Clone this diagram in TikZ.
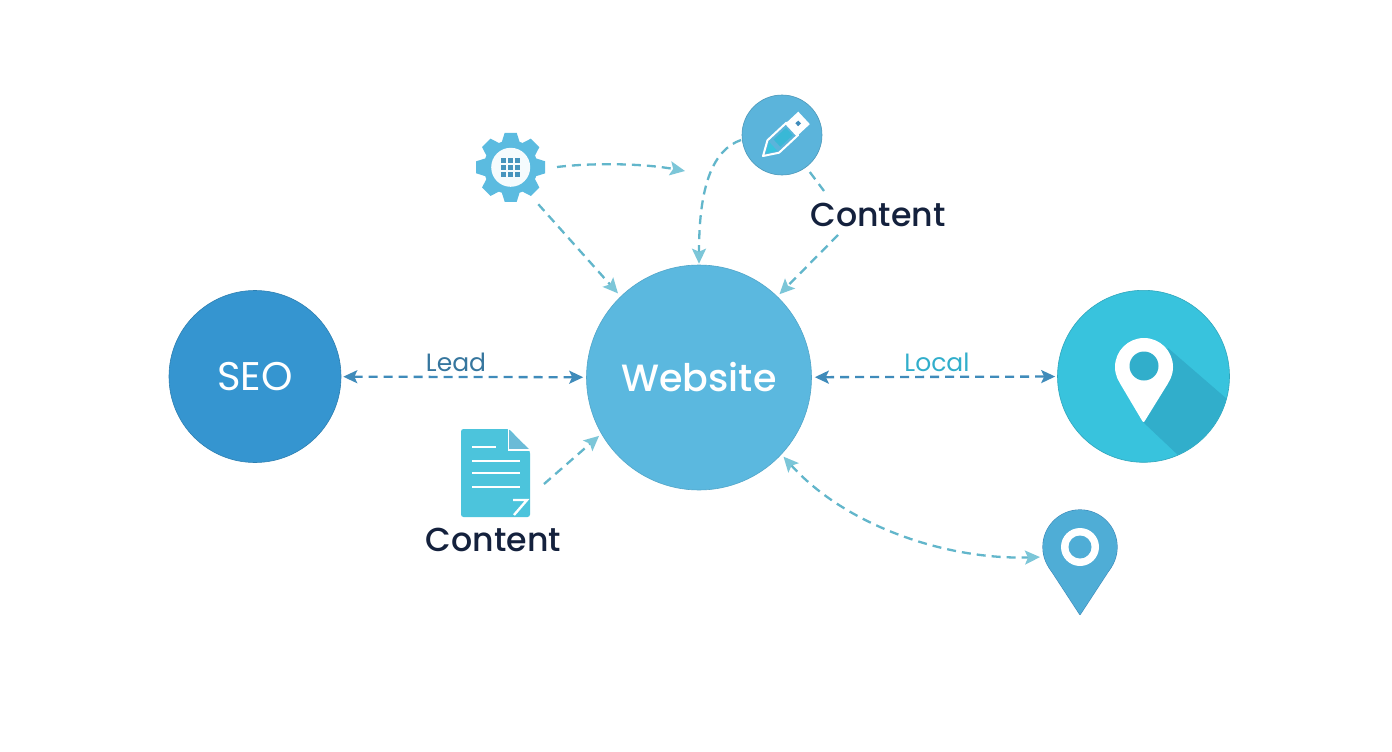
\documentclass[tikz,border=0pt]{standalone}
\usepackage{fontspec}
\setmainfont{Poppins}
\newfontfamily\medfont{Poppins Medium}
\usetikzlibrary{arrows.meta}
\definecolor{seoC}{HTML}{3595D0}
\definecolor{webC}{HTML}{5BB8DF}
\definecolor{locC}{HTML}{38C3DD}
\definecolor{shadC}{HTML}{31AECB}
\definecolor{penC}{HTML}{5BB4DB}
\definecolor{docC}{HTML}{4CC4DC}
\definecolor{foldC}{HTML}{6BBBD7}
\definecolor{pinC}{HTML}{4FADD6}
\definecolor{gearC}{HTML}{5BBBE0}
\definecolor{dashC}{HTML}{62B6CB}
\definecolor{headC}{HTML}{7CC6D8}
\definecolor{mainC}{HTML}{3F8BBA}
\definecolor{inkC}{HTML}{14213D}
\tikzset{
  bigcirc/.style={circle,inner sep=0pt,text=white,font=\fontsize{40}{44}\selectfont},
  flow/.style={draw=dashC,line width=2.3pt,dash pattern=on 9pt off 6pt,
    -{Stealth[length=15pt,width=14pt,inset=3pt,fill=headC,color=headC,sep=0pt]}},
  plain/.style={draw=dashC,line width=2.3pt,dash pattern=on 9pt off 6pt},
  twoway/.style={flow,{Stealth[length=15pt,width=14pt,inset=3pt,fill=headC,color=headC]}-{Stealth[length=15pt,width=14pt,inset=3pt,fill=headC,color=headC]}},
  mainflow/.style={draw=mainC,line width=2.3pt,dash pattern=on 9pt off 6pt,
    {Stealth[length=14pt,width=13pt,inset=3pt,fill=mainC,color=mainC]}-{Stealth[length=14pt,width=13pt,inset=3pt,fill=mainC,color=mainC]}},
  title/.style={text=inkC,inner sep=0pt,font=\medfont\fontsize{33.2}{40}\selectfont},
  tag/.style={inner sep=0pt,font=\fontsize{25}{28}\selectfont},
}
\begin{document}
\begin{tikzpicture}[x=1pt,y=-1pt]
\useasboundingbox (0,0) rectangle (1392,752);
\fill[white] (0,0) rectangle (1392,752);

% main circles
\node[bigcirc,fill=seoC,draw=seoC!85!black,line width=.6pt,minimum size=172pt] (seo) at (255,376.5) {SEO};
\node[bigcirc,fill=webC,draw=webC!90!black,line width=.6pt,minimum size=225pt,font=\medfont\fontsize{38}{46}\selectfont] (web) at (699,377.5) {Website};
\node[bigcirc,fill=locC,draw=locC!85!black,line width=.6pt,minimum size=172pt] (local) at (1143.5,376.3) {};
\begin{scope}
  \clip (1143.5,376.3) circle (85.7);
  \fill[shadC] (1168,348) -- (1235,406) -- (1235,470) -- (1180,457) -- (1143,422) -- cycle;
\end{scope}
\fill[white] (1144,367) circle (29);
\fill[white,rounded corners=2pt] (1119.4,382.4) -- (1143.5,423) -- (1168.6,382.4) -- cycle;
\fill[shadC] (1144,366) circle (14.5);

% gear
\node[circle,inner sep=0pt,minimum size=68pt] (gear) at (510.7,167.3) {};
\begin{scope}[shift={(510.7,167.3)}]
  \fill[gearC] (0,0) circle (27);
  \foreach \a in {0,45,...,315}{
    \fill[gearC] ({25*cos(\a)-9*sin(\a)},{25*sin(\a)+9*cos(\a)})
      -- ({34.5*cos(\a)-6*sin(\a)},{34.5*sin(\a)+6*cos(\a)})
      -- ({34.5*cos(\a)+6*sin(\a)},{34.5*sin(\a)-6*cos(\a)})
      -- ({25*cos(\a)+9*sin(\a)},{25*sin(\a)-9*cos(\a)}) -- cycle;
  }
  \fill[white!94!gearC] (0,0) circle (19.5);
  \foreach \i in {-1,0,1}\foreach \j in {-1,0,1}{
    \fill[mainC!80!dashC] ({\i*7-2.5},{\j*7-2.5}) rectangle +(5,5);
  }
\end{scope}

% pencil badge
\node[circle,inner sep=0pt,minimum size=80pt,fill=penC,draw=penC!85!black,line width=.6pt] (pencil) at (782,135) {};
\begin{scope}[shift={(763,156)},x={(0.733pt,0.68pt)},y={(0.68pt,-0.733pt)}]
  \fill[white] (38,-8.5) -- (56,-8.5) -- (56,8.5) -- (38,8.5) -- cycle;
  \fill[mainC] (46,-2) -- (50,-2) -- (50,2) -- (46,2) -- cycle;
  \draw[white,line width=2pt,line join=round] (0,0) -- (14,-8.5) -- (40,-8.5) -- (40,8.5) -- (14,8.5) -- cycle;
  \fill[locC] (4,0) -- (14,-6) -- (14,6) -- cycle;
  \fill[locC!80!mainC] (19,-5) -- (36,-5) -- (36,5) -- (19,5) -- cycle;
\end{scope}

% document
\node[inner sep=0pt,minimum width=69pt,minimum height=88pt] (doc) at (495.5,473) {};
\fill[docC,rounded corners=2.5pt] (461,429) -- (509,429) -- (530,451) -- (530,517) -- (461,517) -- cycle;
\fill[foldC] (509,430) -- (509,449) -- (529,449) -- cycle;
\draw[white,line width=1.6pt] (508.5,429) -- (508.5,450) -- (530,450);
\foreach \y/\xa/\xb in {447/472/496,461/472/520,473/472/520,487/472/520}{
  \draw[white,line width=2pt] (\xa,\y) -- (\xb,\y);
}
\draw[white,line width=2.4pt] (513,500) -- (527,500) -- (514,515);

% map pin
\node[circle,inner sep=0pt,minimum size=74pt] (pin) at (1080,547) {};
\begin{scope}
  \draw[mainC,line width=1.2pt,line join=round] (1080,547) circle (37);
  \draw[mainC,line width=1.2pt,line join=round] (1049,567) -- (1080,614.5) -- (1111,567);
  \fill[pinC] (1080,547) circle (37);
  \fill[pinC] (1049,567) -- (1080,614.5) -- (1111,567) -- cycle;
  \fill[white] (1080,547) circle (19);
  \fill[pinC] (1080,547) circle (11.5);
\end{scope}

% text labels
\node[title] (c1) at (878,215) {Content};
\node[title] (c2) at (493.5,540) {Content};

% free ends
\coordinate (gearEnd) at (685,171);
\coordinate (gearOut) at (557,167);
\coordinate (penOut) at (741,140);
\coordinate (c1In) at (824,191);
\coordinate (c1Out) at (838,235);
\coordinate (docOut) at (544,484);
\coordinate (pinIn) at (1042,557);

% connectors
\draw[mainflow,shorten <=2pt,shorten >=3pt] (seo) -- (web);
\draw[mainflow,shorten <=3pt,shorten >=2pt] (web) -- (local);
\draw[flow] (gearOut) .. controls (590,163) and (640,163) .. (gearEnd);
\draw[flow,shorten <=12pt,shorten >=4pt] (gear.-55) -- (web.134);
\draw[flow,shorten >=1pt] (penOut) .. controls (713,150) and (699,185) .. (web.north);
\draw[plain,shorten <=6pt] (pencil) -- (c1In);
\draw[flow,shorten >=3pt] (c1Out) -- (web.46);
\draw[flow,shorten >=3pt] (docOut) -- (web.210);
\draw[twoway,shorten <=3pt,shorten >=2pt] (web.-43) .. controls (845,525) and (945,560) .. (pinIn);

\node[tag,text=mainC!85!black] (lead) at (456,362) {Lead};
\node[tag,text=shadC] (loc) at (937,362) {Local};
\end{tikzpicture}
\end{document}
